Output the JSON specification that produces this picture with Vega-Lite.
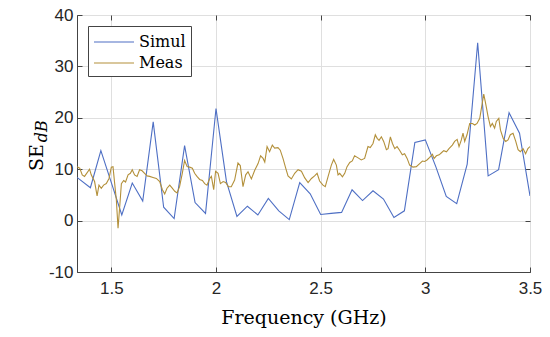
{
"$schema": "https://vega.github.io/schema/vega-lite/v6.json",
"width": 453, "height": 257,
"autosize": "none",
"padding": {"left": 77, "top": 15, "right": 20, "bottom": 65},
"background": "white",
"config": {
  "view": {"stroke": "#444444", "strokeWidth": 1},
  "axis": {"domainColor": "#444444", "tickColor": "#444444", "gridColor": "#dfdfdf", "gridWidth": 1,
           "labelFont": "Liberation Sans", "labelFontSize": 17, "labelColor": "#262626",
           "titleFont": "DejaVu Serif", "titleFontSize": 19, "titleFontWeight": "normal", "titleColor": "#000000",
           "tickSize": -5, "labelOverlap": false, "labelFlush": false}
},
"datasets": {
"simul": [
{"f":1.336,"v":8.4,"s":"Simul"},{"f":1.40,"v":6.4,"s":"Simul"},{"f":1.45,"v":13.6,"s":"Simul"},{"f":1.50,"v":7.4,"s":"Simul"},
{"f":1.55,"v":1.1,"s":"Simul"},{"f":1.60,"v":7.3,"s":"Simul"},{"f":1.65,"v":3.8,"s":"Simul"},{"f":1.70,"v":19.2,"s":"Simul"},
{"f":1.75,"v":2.6,"s":"Simul"},{"f":1.80,"v":0.4,"s":"Simul"},{"f":1.85,"v":14.6,"s":"Simul"},{"f":1.90,"v":3.5,"s":"Simul"},
{"f":1.95,"v":1.4,"s":"Simul"},{"f":2.00,"v":21.8,"s":"Simul"},{"f":2.05,"v":7.6,"s":"Simul"},{"f":2.10,"v":0.8,"s":"Simul"},
{"f":2.15,"v":2.8,"s":"Simul"},{"f":2.20,"v":1.1,"s":"Simul"},{"f":2.25,"v":4.3,"s":"Simul"},{"f":2.30,"v":1.9,"s":"Simul"},
{"f":2.35,"v":0.2,"s":"Simul"},{"f":2.40,"v":7.4,"s":"Simul"},{"f":2.45,"v":5.2,"s":"Simul"},{"f":2.50,"v":1.2,"s":"Simul"},
{"f":2.55,"v":1.4,"s":"Simul"},{"f":2.60,"v":1.6,"s":"Simul"},{"f":2.65,"v":6.0,"s":"Simul"},{"f":2.70,"v":3.9,"s":"Simul"},
{"f":2.75,"v":5.8,"s":"Simul"},{"f":2.80,"v":4.2,"s":"Simul"},{"f":2.85,"v":0.6,"s":"Simul"},{"f":2.90,"v":1.9,"s":"Simul"},
{"f":2.95,"v":15.2,"s":"Simul"},{"f":3.00,"v":15.7,"s":"Simul"},{"f":3.05,"v":10.5,"s":"Simul"},{"f":3.10,"v":4.7,"s":"Simul"},
{"f":3.15,"v":3.3,"s":"Simul"},{"f":3.20,"v":11.0,"s":"Simul"},{"f":3.25,"v":34.6,"s":"Simul"},{"f":3.30,"v":8.7,"s":"Simul"},
{"f":3.35,"v":9.9,"s":"Simul"},{"f":3.40,"v":21.0,"s":"Simul"},{"f":3.45,"v":17.0,"s":"Simul"},{"f":3.50,"v":4.8,"s":"Simul"}
],
"meas": [
{"f":1.336,"v":10.5,"s":"Meas"},{"f":1.349,"v":10.2,"s":"Meas"},{"f":1.361,"v":8.9,"s":"Meas"},{"f":1.372,"v":8.6,"s":"Meas"},
{"f":1.396,"v":10.0,"s":"Meas"},{"f":1.404,"v":8.9,"s":"Meas"},{"f":1.420,"v":7.6,"s":"Meas"},{"f":1.432,"v":4.8,"s":"Meas"},
{"f":1.441,"v":6.9,"s":"Meas"},{"f":1.452,"v":6.3,"s":"Meas"},{"f":1.463,"v":6.9,"s":"Meas"},{"f":1.476,"v":7.2,"s":"Meas"},
{"f":1.489,"v":8.2,"s":"Meas"},{"f":1.500,"v":10.4,"s":"Meas"},{"f":1.508,"v":10.5,"s":"Meas"},{"f":1.516,"v":7.2,"s":"Meas"},
{"f":1.524,"v":4.0,"s":"Meas"},{"f":1.532,"v":-1.5,"s":"Meas"},{"f":1.540,"v":2.7,"s":"Meas"},{"f":1.548,"v":7.2,"s":"Meas"},
{"f":1.559,"v":7.8,"s":"Meas"},{"f":1.568,"v":7.5,"s":"Meas"},{"f":1.580,"v":8.9,"s":"Meas"},{"f":1.591,"v":9.2,"s":"Meas"},
{"f":1.600,"v":9.9,"s":"Meas"},{"f":1.611,"v":8.9,"s":"Meas"},{"f":1.623,"v":8.6,"s":"Meas"},{"f":1.635,"v":9.9,"s":"Meas"},
{"f":1.647,"v":9.7,"s":"Meas"},{"f":1.659,"v":9.2,"s":"Meas"},{"f":1.671,"v":8.7,"s":"Meas"},{"f":1.683,"v":8.6,"s":"Meas"},
{"f":1.699,"v":8.4,"s":"Meas"},{"f":1.715,"v":8.2,"s":"Meas"},{"f":1.731,"v":7.6,"s":"Meas"},{"f":1.744,"v":6.0,"s":"Meas"},
{"f":1.755,"v":5.2,"s":"Meas"},{"f":1.766,"v":6.3,"s":"Meas"},{"f":1.779,"v":6.9,"s":"Meas"},{"f":1.791,"v":6.3,"s":"Meas"},
{"f":1.803,"v":5.7,"s":"Meas"},{"f":1.814,"v":5.4,"s":"Meas"},{"f":1.826,"v":6.6,"s":"Meas"},{"f":1.839,"v":9.2,"s":"Meas"},
{"f":1.850,"v":11.7,"s":"Meas"},{"f":1.862,"v":10.5,"s":"Meas"},{"f":1.874,"v":10.4,"s":"Meas"},{"f":1.887,"v":10.2,"s":"Meas"},
{"f":1.898,"v":9.2,"s":"Meas"},{"f":1.909,"v":8.6,"s":"Meas"},{"f":1.922,"v":8.0,"s":"Meas"},{"f":1.935,"v":7.8,"s":"Meas"},
{"f":1.946,"v":7.2,"s":"Meas"},{"f":1.957,"v":6.9,"s":"Meas"},{"f":1.970,"v":8.2,"s":"Meas"},{"f":1.978,"v":8.6,"s":"Meas"},
{"f":1.989,"v":6.0,"s":"Meas"},{"f":1.998,"v":9.6,"s":"Meas"},{"f":2.010,"v":9.2,"s":"Meas"},{"f":2.021,"v":7.2,"s":"Meas"},
{"f":2.034,"v":7.6,"s":"Meas"},{"f":2.046,"v":7.4,"s":"Meas"},{"f":2.059,"v":6.6,"s":"Meas"},{"f":2.073,"v":6.6,"s":"Meas"},
{"f":2.089,"v":7.9,"s":"Meas"},{"f":2.105,"v":11.2,"s":"Meas"},{"f":2.116,"v":10.7,"s":"Meas"},{"f":2.129,"v":6.6,"s":"Meas"},
{"f":2.142,"v":8.9,"s":"Meas"},{"f":2.153,"v":9.5,"s":"Meas"},{"f":2.169,"v":8.1,"s":"Meas"},{"f":2.185,"v":9.8,"s":"Meas"},
{"f":2.201,"v":11.1,"s":"Meas"},{"f":2.213,"v":12.6,"s":"Meas"},{"f":2.225,"v":12.1,"s":"Meas"},{"f":2.233,"v":11.4,"s":"Meas"},
{"f":2.244,"v":14.4,"s":"Meas"},{"f":2.256,"v":13.4,"s":"Meas"},{"f":2.269,"v":14.7,"s":"Meas"},{"f":2.280,"v":14.1,"s":"Meas"},
{"f":2.296,"v":14.2,"s":"Meas"},{"f":2.307,"v":13.7,"s":"Meas"},{"f":2.320,"v":12.1,"s":"Meas"},{"f":2.333,"v":10.2,"s":"Meas"},
{"f":2.344,"v":8.7,"s":"Meas"},{"f":2.360,"v":8.1,"s":"Meas"},{"f":2.376,"v":9.2,"s":"Meas"},{"f":2.392,"v":9.9,"s":"Meas"},
{"f":2.408,"v":9.6,"s":"Meas"},{"f":2.424,"v":8.3,"s":"Meas"},{"f":2.440,"v":7.4,"s":"Meas"},{"f":2.456,"v":8.2,"s":"Meas"},
{"f":2.471,"v":8.7,"s":"Meas"},{"f":2.483,"v":9.2,"s":"Meas"},{"f":2.495,"v":7.7,"s":"Meas"},{"f":2.511,"v":6.9,"s":"Meas"},
{"f":2.522,"v":6.6,"s":"Meas"},{"f":2.535,"v":8.5,"s":"Meas"},{"f":2.551,"v":10.8,"s":"Meas"},{"f":2.562,"v":11.9,"s":"Meas"},
{"f":2.575,"v":10.8,"s":"Meas"},{"f":2.583,"v":8.9,"s":"Meas"},{"f":2.591,"v":9.2,"s":"Meas"},{"f":2.604,"v":8.5,"s":"Meas"},
{"f":2.615,"v":9.2,"s":"Meas"},{"f":2.626,"v":10.5,"s":"Meas"},{"f":2.639,"v":11.3,"s":"Meas"},{"f":2.651,"v":11.6,"s":"Meas"},
{"f":2.662,"v":12.6,"s":"Meas"},{"f":2.679,"v":12.2,"s":"Meas"},{"f":2.694,"v":11.8,"s":"Meas"},{"f":2.710,"v":12.1,"s":"Meas"},
{"f":2.726,"v":14.4,"s":"Meas"},{"f":2.737,"v":14.2,"s":"Meas"},{"f":2.750,"v":15.0,"s":"Meas"},{"f":2.761,"v":16.7,"s":"Meas"},
{"f":2.770,"v":16.0,"s":"Meas"},{"f":2.779,"v":15.6,"s":"Meas"},{"f":2.790,"v":16.3,"s":"Meas"},{"f":2.801,"v":15.4,"s":"Meas"},
{"f":2.814,"v":13.8,"s":"Meas"},{"f":2.822,"v":14.0,"s":"Meas"},{"f":2.833,"v":16.3,"s":"Meas"},{"f":2.843,"v":15.0,"s":"Meas"},
{"f":2.854,"v":14.0,"s":"Meas"},{"f":2.865,"v":14.4,"s":"Meas"},{"f":2.877,"v":13.7,"s":"Meas"},{"f":2.890,"v":12.8,"s":"Meas"},
{"f":2.901,"v":13.0,"s":"Meas"},{"f":2.913,"v":12.1,"s":"Meas"},{"f":2.925,"v":10.8,"s":"Meas"},{"f":2.941,"v":10.4,"s":"Meas"},
{"f":2.957,"v":10.5,"s":"Meas"},{"f":2.973,"v":11.1,"s":"Meas"},{"f":2.986,"v":11.6,"s":"Meas"},{"f":2.997,"v":11.5,"s":"Meas"},
{"f":3.008,"v":11.8,"s":"Meas"},{"f":3.021,"v":12.3,"s":"Meas"},{"f":3.034,"v":12.9,"s":"Meas"},{"f":3.042,"v":12.1,"s":"Meas"},
{"f":3.053,"v":12.6,"s":"Meas"},{"f":3.066,"v":12.8,"s":"Meas"},{"f":3.077,"v":13.2,"s":"Meas"},{"f":3.088,"v":13.6,"s":"Meas"},
{"f":3.101,"v":13.4,"s":"Meas"},{"f":3.113,"v":14.0,"s":"Meas"},{"f":3.129,"v":14.7,"s":"Meas"},{"f":3.140,"v":15.4,"s":"Meas"},
{"f":3.152,"v":15.8,"s":"Meas"},{"f":3.161,"v":14.4,"s":"Meas"},{"f":3.172,"v":15.7,"s":"Meas"},{"f":3.180,"v":17.0,"s":"Meas"},
{"f":3.188,"v":15.4,"s":"Meas"},{"f":3.199,"v":16.7,"s":"Meas"},{"f":3.212,"v":18.9,"s":"Meas"},{"f":3.225,"v":18.9,"s":"Meas"},
{"f":3.236,"v":18.6,"s":"Meas"},{"f":3.247,"v":18.9,"s":"Meas"},{"f":3.260,"v":19.9,"s":"Meas"},{"f":3.279,"v":24.6,"s":"Meas"},
{"f":3.288,"v":22.8,"s":"Meas"},{"f":3.300,"v":20.2,"s":"Meas"},{"f":3.311,"v":18.3,"s":"Meas"},{"f":3.320,"v":18.9,"s":"Meas"},
{"f":3.331,"v":18.0,"s":"Meas"},{"f":3.339,"v":19.3,"s":"Meas"},{"f":3.351,"v":19.9,"s":"Meas"},{"f":3.359,"v":17.6,"s":"Meas"},
{"f":3.372,"v":16.0,"s":"Meas"},{"f":3.384,"v":15.4,"s":"Meas"},{"f":3.395,"v":15.7,"s":"Meas"},{"f":3.406,"v":16.7,"s":"Meas"},
{"f":3.419,"v":17.0,"s":"Meas"},{"f":3.432,"v":15.4,"s":"Meas"},{"f":3.443,"v":13.8,"s":"Meas"},{"f":3.454,"v":13.4,"s":"Meas"},
{"f":3.467,"v":14.0,"s":"Meas"},{"f":3.479,"v":13.0,"s":"Meas"},{"f":3.490,"v":14.0,"s":"Meas"},{"f":3.500,"v":14.4,"s":"Meas"}
]
},
"layer": [
  {
    "data": {"name": "simul"},
    "mark": {"type": "line", "strokeWidth": 1.1, "clip": true},
    "encoding": {
      "x": {"field": "f", "type": "quantitative", "scale": {"domain": [1.336, 3.5], "nice": false, "zero": false},
            "axis": {"orient": "bottom", "values": [1.5, 2, 2.5, 3, 3.5], "format": ".2~f", "grid": true,
                     "labelPadding": 13, "title": "Frequency (GHz)", "titleY": 51, "titleBaseline": "alphabetic"}},
      "y": {"field": "v", "type": "quantitative", "scale": {"domain": [-10, 40], "nice": false, "zero": false},
            "axis": {"orient": "left", "values": [-10, 0, 10, 20, 30, 40], "grid": true, "labelPadding": 9,
                     "labelExpr": "datum.value < 0 ? '-' + abs(datum.value) : '' + datum.value",
                     "title": null}},
      "color": {"field": "s", "type": "nominal",
                "scale": {"domain": ["Simul", "Meas"], "range": ["#4e6fc4", "#b3903a"]},
                "legend": {"title": null, "orient": "top-left", "offset": 11, "fillColor": "white", "strokeColor": "#444444",
                           "padding": 5, "symbolType": "M-1,0H3", "symbolSize": 400, "symbolStrokeWidth": 1.2,
                           "labelFont": "DejaVu Serif", "labelFontSize": 16, "labelColor": "#000000",
                           "rowPadding": 2, "labelOffset": 24}}
    }
  },
  {
    "data": {"name": "meas"},
    "mark": {"type": "line", "strokeWidth": 1.1, "clip": true},
    "encoding": {
      "x": {"field": "f", "type": "quantitative", "axis": null},
      "y": {"field": "v", "type": "quantitative", "axis": null},
      "color": {"field": "s", "type": "nominal"}
    }
  },
  {
    "data": {"values": [{"t": "dB"}]},
    "mark": {"type": "text", "text": "dB", "angle": 270, "font": "DejaVu Serif", "fontStyle": "italic", "fontSize": 16,
             "align": "center", "baseline": "alphabetic", "dy": -30, "color": "#000000"},
    "encoding": {
      "x": {"datum": 1.336, "type": "quantitative",
            "axis": {"orient": "top", "values": [1.5, 2, 2.5, 3, 3.5], "labels": false, "title": null, "grid": false, "domain": false}},
      "y": {"datum": 17.4, "type": "quantitative",
            "axis": {"orient": "right", "values": [-10, 0, 10, 20, 30, 40], "labels": false, "title": null, "grid": false, "domain": false}}
    }
  },
  {
    "data": {"values": [{"t": "SE"}]},
    "mark": {"type": "text", "text": "SE", "angle": 270, "font": "DejaVu Serif", "fontSize": 19,
             "align": "center", "baseline": "alphabetic", "dy": -34, "color": "#000000"},
    "encoding": {
      "x": {"datum": 1.336, "type": "quantitative", "axis": null},
      "y": {"datum": 12.28, "type": "quantitative", "axis": null}
    }
  }
],
"resolve": {"axis": {"x": "independent", "y": "independent"}}
}
